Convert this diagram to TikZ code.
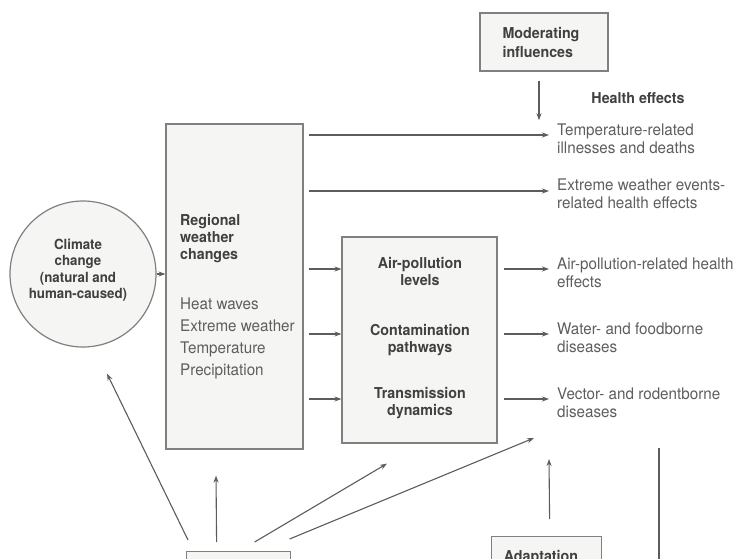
\documentclass[tikz,border=0pt]{standalone}
\usepackage{fontspec}
\setmainfont[FakeStretch=0.95]{TeX Gyre Heros}
\usetikzlibrary{arrows.meta}
\definecolor{linegray}{HTML}{5C5C5C}
\definecolor{boxline}{HTML}{808080}
\definecolor{boxfill}{HTML}{F5F5F3}
\definecolor{txtreg}{HTML}{5E5E5E}
\definecolor{txtbold}{HTML}{404040}
\tikzset{
  panel/.style={draw=boxline, fill=boxfill, line width=1.2pt, inner sep=0pt},
  arr/.style={draw=linegray, line width=1.1pt, -{Stealth[length=7pt,width=5pt]}},
  plain/.style={draw=linegray, line width=1.1pt},
  bold/.style={font=\fontsize{15}{17}\selectfont\bfseries, text=txtbold, inner sep=0pt},
  effect/.style={font=\fontsize{16}{18}\selectfont, text=txtreg, align=left, anchor=north west, inner sep=0pt},
}
\begin{document}
\begin{tikzpicture}[x=1pt,y=-1pt]
\useasboundingbox (0,0) rectangle (737,558);
\fill[white] (0,0) rectangle (737,558);
\clip (0,0) rectangle (737,558);

% moderating influences
\node[panel, minimum width=128pt, minimum height=58pt] (mod) at (544,42) {};
\node[bold, align=left, font=\fontsize{15}{19}\selectfont\bfseries] (modtxt) at (541,42.5) {Moderating\\influences};

% climate change
\node[circle, draw=boxline, fill=boxfill, line width=1.2pt, minimum size=146pt, inner sep=0pt] (clim) at (83,274) {};
\node[bold, align=center, font=\fontsize{14}{16.5}\selectfont\bfseries] (climtxt) at (78,270) {Climate\\change\\(natural and\\human-caused)};

% regional weather changes
\node[panel, minimum width=137pt, minimum height=325pt] (reg) at (234.5,286.5) {};
\node[bold, align=left, anchor=north west] (regtitle) at (180,214.6) {Regional\\weather\\changes};
\node[effect, font=\fontsize{16}{22}\selectfont] (reglist) at (180,297.2) {Heat waves\\Extreme weather\\Temperature\\Precipitation};

% pathways
\node[panel, minimum width=155pt, minimum height=206pt] (mid) at (419.5,340) {};
\node[bold, align=center] (ap) at (420,271.5) {Air-pollution\\levels};
\node[bold, align=center] (cp) at (420,340.5) {Contamination\\pathways};
\node[bold, align=center] (td) at (420,403.5) {Transmission\\dynamics};

% health effects
\node[bold] (hhead) at (638,98) {Health effects};
\node[effect] (h1) at (557,123.2) {Temperature-related\\illnesses and deaths};
\node[effect] (h2) at (557,178.2) {Extreme weather events-\\related health effects};
\node[effect] (h3) at (557,257.2) {Air-pollution-related health\\effects};
\node[effect] (h4) at (557,322.2) {Water- and foodborne\\diseases};
\node[effect] (h5) at (557,387.2) {Vector- and rodentborne\\diseases};

% lower boxes
\node[panel, minimum width=104pt, minimum height=60pt, anchor=north west] (src) at (186,551) {};
\node[panel, minimum width=110pt, minimum height=60pt, anchor=north west] (adapt) at (491,536) {};
\node[bold] (adtxt) at (541,558) {Adaptation};

% row levels
\coordinate (t1) at (0,135);
\coordinate (t2) at (0,191);
\coordinate (r1) at (0,269);
\coordinate (r2) at (0,334);
\coordinate (r3) at (0,399);
\coordinate (mcol) at (539,0);
\coordinate (vline) at (659,448);

% connectors
\draw[arr, shorten <=9pt, shorten >=3pt] (mod.south -| mcol) -- (h1.north -| mcol);
\draw[arr] (clim.east) -- (reg.west |- clim.east);
\draw[arr, shorten <=5pt, shorten >=8pt] (reg.east |- t1) -- (h1.west |- t1);
\draw[arr, shorten <=5pt, shorten >=8pt] (reg.east |- t2) -- (h2.west |- t2);
\draw[arr, shorten <=5pt] (reg.east |- r1) -- (mid.west |- r1);
\draw[arr, shorten <=5pt] (reg.east |- r2) -- (mid.west |- r2);
\draw[arr, shorten <=5pt] (reg.east |- r3) -- (mid.west |- r3);
\draw[arr, shorten <=6pt, shorten >=8pt] (mid.east |- r1) -- (h3.west |- r1);
\draw[arr, shorten <=6pt, shorten >=8pt] (mid.east |- r2) -- (h4.west |- r2);
\draw[arr, shorten <=6pt, shorten >=8pt] (mid.east |- r3) -- (h5.west |- r3);

\draw[arr] ([shift={(2,-11)}]src.north west) -- ([shift={(24,26)}]clim.south);
\draw[arr] ([shift={(-22,-9)}]src.north) -- ([shift={(-18.5,26)}]reg.south);
\draw[arr] ([shift={(16,-9)}]src.north) -- ([shift={(-32.5,20)}]mid.south);
\draw[arr] ([shift={(51,-12)}]src.north) -- ([shift={(-23,50.8)}]h5.north west);
\draw[arr] ([shift={(3,-17)}]adapt.north) -- ([shift={(-8,71.8)}]h5.north west);
\draw[plain] (vline) -- ++(0,150);
\end{tikzpicture}
\end{document}
